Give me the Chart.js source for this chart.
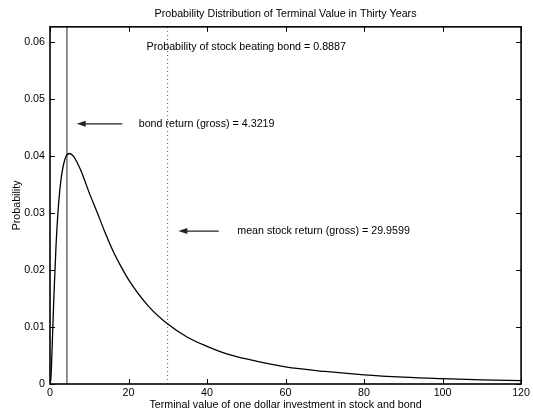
<!DOCTYPE html>
<html>
<head>
<meta charset="utf-8">
<script src="https://cdn.jsdelivr.net/npm/chart.js@4.4.0/dist/chart.umd.min.js"></script>
<style>
  html, body { margin: 0; padding: 0; background: #fff; }
  #wrap { width: 533px; height: 411px; }
</style>
</head>
<body>
<div id="wrap"><canvas id="distChart" width="533" height="411"></canvas></div>
<script>
// Terminal value after thirty years (dollars) and its density
const terminalValue = [0, 0.25, 0.5, 1, 1.5, 2, 2.5, 3, 4, 5, 6, 7, 8, 10, 12, 14, 16, 18, 20,
  25, 30, 35, 40, 45, 50, 60, 70, 80, 90, 100, 110, 120];
const probability = [0, 0.0012, 0.0055, 0.0155, 0.0237, 0.0298, 0.0340, 0.0368, 0.0398,
  0.0404, 0.0399, 0.0387, 0.0372, 0.0335, 0.0301, 0.0266, 0.0234, 0.0207, 0.0183,
  0.0137, 0.0105, 0.0082, 0.0066, 0.0053, 0.0044, 0.0030, 0.0022, 0.0016, 0.0012,
  0.00094, 0.00074, 0.00059];

const bondReturn = 4.3219;
const meanStockReturn = 29.9599;
const probStockBeatsBond = 0.8887;

const xTicks = [0, 20, 40, 60, 80, 100, 120];
const xTickLabels = ['0', '20', '40', '60', '80', '100', '120'];
const yTicks = [0, 0.01, 0.02, 0.03, 0.04, 0.05, 0.06];
const yTickLabels = ['0', '0.01', '0.02', '0.03', '0.04', '0.05', '0.06'];

const X_MAX = 120;
const Y_MAX = 0.0626;
const FONT = "'Liberation Sans', Arial, Helvetica, sans-serif";
const FONT_SIZE = 10.7;

// text notes and arrows, in data units
const notes = [
  { x: 24.6, y: 0.0591, text: 'Probability of stock beating bond = ' + probStockBeatsBond.toFixed(4) },
  { x: 22.6, y: 0.0456, text: 'bond return (gross) = ' + bondReturn.toFixed(4) },
  { x: 47.7, y: 0.0268, text: 'mean stock return (gross) = ' + meanStockReturn.toFixed(4) }
];
const arrows = [
  { from: 18.4, to: 6.8, y: 0.0456 },
  { from: 43.0, to: 32.7, y: 0.0268 }
];

// box around the axes, inward ticks on all four sides, notes and arrows
const matlabAxes = {
  id: 'matlabAxes',
  afterDatasetsDraw(chart) {
    const { ctx, chartArea: a, scales: { x, y } } = chart;
    ctx.save();

    ctx.strokeStyle = '#000';
    ctx.lineWidth = 1;
    ctx.beginPath();
    xTicks.forEach(v => {
      const px = Math.round(x.getPixelForValue(v)) + 0.5;
      ctx.moveTo(px, a.bottom); ctx.lineTo(px, a.bottom - 5);
      ctx.moveTo(px, a.top); ctx.lineTo(px, a.top + 5);
    });
    yTicks.forEach(v => {
      const py = Math.round(y.getPixelForValue(v)) + 0.5;
      ctx.moveTo(a.left, py); ctx.lineTo(a.left + 5, py);
      ctx.moveTo(a.right, py); ctx.lineTo(a.right - 5, py);
    });
    ctx.stroke();

    ctx.lineWidth = 1.6;
    ctx.strokeRect(a.left, a.top, a.right - a.left, a.bottom - a.top);

    // arrows
    ctx.strokeStyle = '#222';
    ctx.fillStyle = '#222';
    ctx.lineWidth = 1.3;
    arrows.forEach(ar => {
      const x0 = x.getPixelForValue(ar.from);
      const x1 = x.getPixelForValue(ar.to);
      const py = y.getPixelForValue(ar.y);
      ctx.beginPath();
      ctx.moveTo(x0, py); ctx.lineTo(x1 + 6, py);
      ctx.stroke();
      ctx.beginPath();
      ctx.moveTo(x1, py);
      ctx.lineTo(x1 + 9, py - 3);
      ctx.lineTo(x1 + 9, py + 3);
      ctx.closePath();
      ctx.fill();
    });

    // notes
    ctx.fillStyle = '#000';
    ctx.font = FONT_SIZE + 'px ' + FONT;
    ctx.textAlign = 'left';
    ctx.textBaseline = 'middle';
    notes.forEach(n => {
      ctx.fillText(n.text, x.getPixelForValue(n.x), y.getPixelForValue(n.y));
    });
    ctx.restore();
  }
};

const ctx = document.getElementById('distChart').getContext('2d');

new Chart(ctx, {
  type: 'line',
  data: {
    datasets: [
      {
        label: 'density',
        data: terminalValue.map((v, i) => ({ x: v, y: probability[i] })),
        borderColor: '#000',
        borderWidth: 1.3,
        pointRadius: 0,
        cubicInterpolationMode: 'monotone',
        fill: false
      },
      {
        label: 'bond',
        data: [{ x: bondReturn, y: 0 }, { x: bondReturn, y: Y_MAX }],
        borderColor: '#222',
        borderWidth: 1,
        pointRadius: 0
      },
      {
        label: 'mean stock',
        data: [{ x: meanStockReturn, y: 0 }, { x: meanStockReturn, y: Y_MAX }],
        borderColor: '#555',
        borderWidth: 1,
        borderDash: [1, 3],
        pointRadius: 0
      }
    ]
  },
  options: {
    responsive: false,
    animation: false,
    layout: { padding: { left: 0, right: 9, top: 0, bottom: 0 } },
    scales: {
      x: {
        type: 'linear',
        min: 0,
        max: X_MAX,
        grid: { display: false, drawTicks: false },
        border: { display: false },
        afterBuildTicks: s => { s.ticks = xTicks.map(v => ({ value: v })); },
        afterFit: s => { s.height = 27; },
        ticks: {
          padding: 3,
          color: '#000',
          font: { family: FONT, size: FONT_SIZE },
          maxRotation: 0,
          callback: (v) => xTickLabels[xTicks.indexOf(v)]
        },
        title: {
          display: true,
          text: 'Terminal value of one dollar investment in stock and bond',
          color: '#000',
          font: { family: FONT, size: FONT_SIZE },
          padding: 0
        }
      },
      y: {
        type: 'linear',
        min: 0,
        max: Y_MAX,
        grid: { display: false, drawTicks: false },
        border: { display: false },
        afterBuildTicks: s => { s.ticks = yTicks.map(v => ({ value: v })); },
        afterFit: s => { s.width = 50; },
        ticks: {
          padding: 5,
          color: '#000',
          font: { family: FONT, size: FONT_SIZE },
          callback: (v) => yTickLabels[yTicks.findIndex(t => Math.abs(t - v) < 1e-9)]
        },
        title: {
          display: true,
          text: 'Probability',
          color: '#000',
          font: { family: FONT, size: FONT_SIZE },
          padding: { top: 11, bottom: 0 }
        }
      }
    },
    plugins: {
      legend: { display: false },
      tooltip: { enabled: false },
      title: {
        display: true,
        fullSize: false,
        text: 'Probability Distribution of Terminal Value in Thirty Years',
        color: '#000',
        font: { family: FONT, size: FONT_SIZE, weight: 'normal' },
        padding: { top: 8, bottom: 6 }
      }
    }
  },
  plugins: [matlabAxes]
});
</script>
</body>
</html>
